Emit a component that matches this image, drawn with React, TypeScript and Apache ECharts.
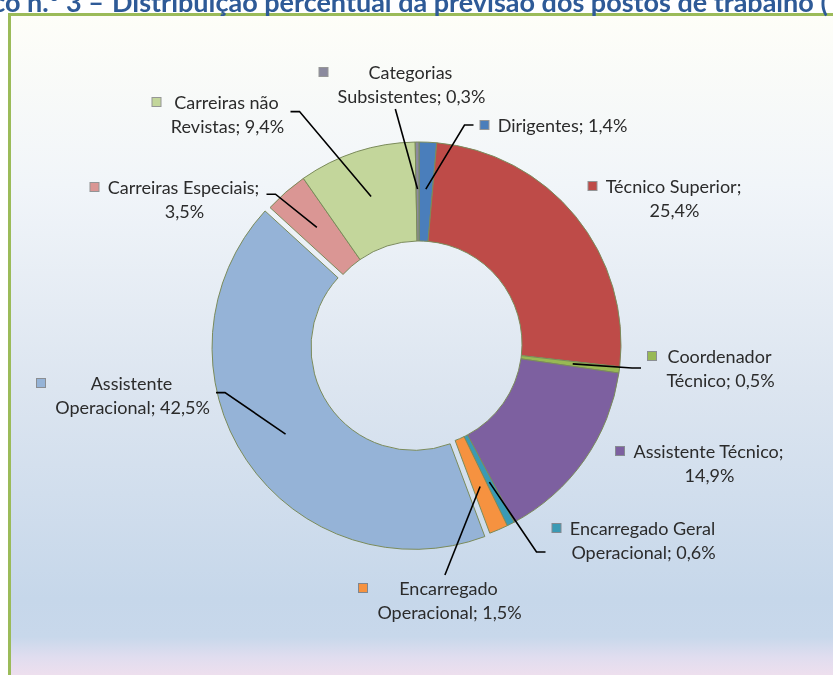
import React, { useEffect, useRef } from "react";
import * as echarts from "echarts";

const TITLE_LEFT = "Gráfico n.º 3 –";
const TITLE_RIGHT = "Distribuição percentual da previsão dos postos de trabalho (";

const CATEGORIES = [
  "Dirigentes",
  "Técnico Superior",
  "Coordenador Técnico",
  "Assistente Técnico",
  "Encarregado Geral Operacional",
  "Encarregado Operacional",
  "Assistente Operacional",
  "Carreiras Especiais",
  "Carreiras não Revistas",
  "Categorias Subsistentes",
];
const SHARES = [1.4, 25.4, 0.5, 14.9, 0.6, 1.5, 42.5, 3.5, 9.4, 0.3];
const COLORS = [
  "#4A7EBB",
  "#BE4B48",
  "#98B954",
  "#7D60A0",
  "#3A9AB5",
  "#F69240",
  "#95B3D7",
  "#DA9694",
  "#C3D69B",
  "#8B8A9E",
];
const EXPLODED_INDEX = 6;
// words on the first label line; -1 = break before the value; 0 = one line
const LABEL_BREAK = [0, -1, 1, -1, 2, 1, 1, -1, 2, 1];
// label centres (layout)
const LABEL_POS = [
  [554, 125],
  [665, 198],
  [711, 368],
  [700, 463],
  [634, 540],
  [440, 600],
  [123, 395],
  [175, 199],
  [218, 114],
  [402, 84],
];
// where the leader line leaves the label: side and fraction along that side
const LINE_ATTACH: ([string, number] | null)[] = [
  ["left", 0.5],
  null,
  ["left", 0.5],
  null,
  ["left", 0.75],
  ["top", 0.53],
  ["right", 0.45],
  ["right", 0.4],
  ["right", 0.45],
  ["bottom", 0.46],
];

const CENTER = [419, 344];
const RADIUS = [103, 202];
const EXPLODE = 6;
const ANCHOR_R = 155;
const FONT_SIZE = 18;
const LINE_H = 24;
const KEY = 10;
const GAP = 9;

function fmtPct(v: number) {
  return v.toFixed(1).replace(".", ",") + "%";
}

function labelLines(i: number): string[] {
  const name = CATEGORIES[i];
  const val = fmtPct(SHARES[i]);
  const br = LABEL_BREAK[i];
  if (br === 0) return [`${name}; ${val}`];
  if (br === -1) return [`${name};`, val];
  const w = name.split(" ");
  return [w.slice(0, br).join(" "), `${w.slice(br).join(" ")}; ${val}`];
}

export default function App() {
  const ref = useRef<HTMLDivElement>(null);
  useEffect(() => {
    if (!ref.current) return;
    const chart = echarts.init(ref.current, null, { renderer: "svg" });

    const ctx = document.createElement("canvas").getContext("2d")!;
    ctx.font = `${FONT_SIZE}px Lato`;

    const total = SHARES.reduce((a, b) => a + b, 0);
    const midAngles: number[] = [];
    let cum = 0;
    SHARES.forEach((s) => {
      midAngles.push(((cum + s / 2) / total) * Math.PI * 2);
      cum += s;
    });
    const expA = midAngles[EXPLODED_INDEX];
    const expCenter = [
      CENTER[0] + Math.sin(expA) * EXPLODE,
      CENTER[1] - Math.cos(expA) * EXPLODE,
    ];

    const rich: any = {
      gap: { width: GAP },
      pad: { width: KEY + GAP },
    };
    const lines = CATEGORIES.map((_, i) => labelLines(i));
    const blockW = lines.map((ls) =>
      Math.ceil(Math.max(...ls.map((s) => ctx.measureText(s).width)))
    );
    COLORS.forEach((c, i) => {
      rich["sq" + i] = {
        width: KEY - 2,
        height: KEY - 2,
        backgroundColor: c,
        borderColor: "rgba(70,70,70,0.55)",
        borderWidth: 1,
      };
      rich["t" + i] = { width: blockW[i], align: "center" };
    });

    const transparent = { color: "rgba(0,0,0,0)", borderWidth: 0 };

    const dataMain = CATEGORIES.map((name, i) => ({
      name,
      value: SHARES[i],
      itemStyle: i === EXPLODED_INDEX ? transparent : { color: COLORS[i] },
    }));
    const dataExploded = CATEGORIES.map((name, i) => ({
      name,
      value: SHARES[i],
      itemStyle: i === EXPLODED_INDEX ? { color: COLORS[i] } : transparent,
    }));

    // leader lines from inside each slice to its label
    const leaderLines: any[] = [];
    CATEGORIES.forEach((_, i) => {
      const att = LINE_ATTACH[i];
      if (!att) return;
      const pos = LABEL_POS[i];
      const w = KEY + GAP + blockW[i];
      const h = lines[i].length * LINE_H;
      const left = pos[0] - w / 2;
      const top = pos[1] - h / 2;
      const c = i === EXPLODED_INDEX ? expCenter : CENTER;
      const a = midAngles[i];
      const anchor = [c[0] + Math.sin(a) * ANCHOR_R, c[1] - Math.cos(a) * ANCHOR_R];
      let edge: number[];
      let stub: number[];
      if (att[0] === "left") {
        edge = [left - 6, top + h * att[1]];
        stub = [edge[0] - 9, edge[1]];
      } else if (att[0] === "right") {
        edge = [left + w + 6, top + h * att[1]];
        stub = [edge[0] + 9, edge[1]];
      } else if (att[0] === "top") {
        edge = [left + w * att[1], top - 1];
        stub = edge;
      } else {
        edge = [left + w * att[1], top + h + 1];
        stub = edge;
      }
      leaderLines.push({
        type: "polyline",
        silent: true,
        z: 10,
        shape: { points: [anchor, stub, edge] },
        style: { stroke: "#000", lineWidth: 1.6, fill: "none" },
      });
    });

    chart.setOption({
      animation: false,
      graphic: [
        {
          type: "rect",
          silent: true,
          z: -10,
          shape: { x: 9.5, y: 14.5, width: 840, height: 680 },
          style: {
            stroke: "#9BBB59",
            lineWidth: 3,
            fill: new echarts.graphic.LinearGradient(0, 0, 0, 1, [
              { offset: 0, color: "#FEFEF8" },
              { offset: 0.25, color: "#F1F5F9" },
              { offset: 0.55, color: "#DCE5F0" },
              { offset: 0.86, color: "#C6D7EA" },
              { offset: 0.915, color: "#C8D8EB" },
              { offset: 0.945, color: "#E0DDEF" },
              { offset: 0.97, color: "#EDDFEE" },
              { offset: 1, color: "#EFE0EE" },
            ]),
          },
        },
        {
          type: "text",
          silent: true,
          x: 104,
          y: 1,
          style: {
            text: TITLE_LEFT,
            fontSize: 27,
            fontWeight: "bold",
            fontFamily: "Lato",
            fill: "#2E5A97",
            align: "right",
            verticalAlign: "middle",
          },
        },
        {
          type: "text",
          silent: true,
          x: 112,
          y: 1,
          style: {
            text: TITLE_RIGHT,
            fontSize: 27,
            fontWeight: "bold",
            fontFamily: "Lato",
            fill: "#2E5A97",
            align: "left",
            verticalAlign: "middle",
          },
        },
        ...leaderLines,
      ],
      series: [
        {
          type: "pie",
          silent: true,
          center: CENTER,
          radius: RADIUS,
          startAngle: 90,
          clockwise: true,
          avoidLabelOverlap: false,
          emphasis: { disabled: true },
          itemStyle: { borderColor: "#7B8B5B", borderWidth: 1 },
          label: {
            show: true,
            position: "outside",
            color: "#2B2B2B",
            fontFamily: "Lato",
            fontSize: FONT_SIZE,
            lineHeight: LINE_H,
            align: "center",
            rich,
            formatter: (p: any) => {
              const i = p.dataIndex;
              const ls = lines[i];
              let s = `{sq${i}|}{gap|}{t${i}|${ls[0]}}`;
              if (ls.length > 1) s += `\n{pad|}{t${i}|${ls[1]}}`;
              return s;
            },
          },
          labelLine: { show: false },
          labelLayout: (p: any) => {
            const pos = LABEL_POS[p.dataIndex];
            return { x: pos[0], y: pos[1], align: "center", verticalAlign: "middle" };
          },
          data: dataMain,
        },
        {
          type: "pie",
          silent: true,
          center: expCenter,
          radius: RADIUS,
          startAngle: 90,
          clockwise: true,
          emphasis: { disabled: true },
          itemStyle: { borderColor: "#7B8B5B", borderWidth: 1 },
          label: { show: false },
          labelLine: { show: false },
          data: dataExploded,
        },
      ],
    });
    return () => chart.dispose();
  }, []);
  return (
    <div
      ref={ref}
      style={{ position: "fixed", left: 0, top: 0, width: 833, height: 675 }}
    />
  );
}
